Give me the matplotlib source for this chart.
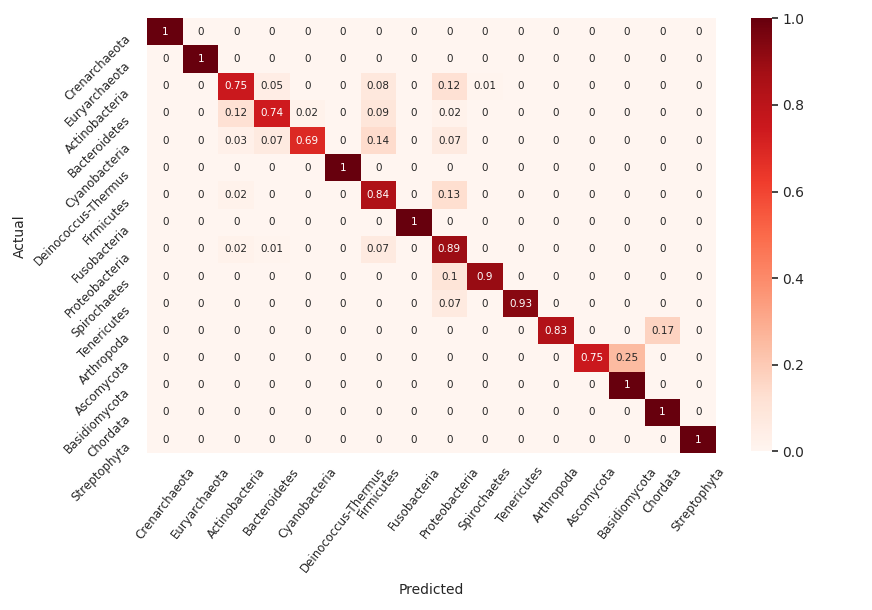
import numpy as np
import matplotlib
matplotlib.use('Agg')
import matplotlib.pyplot as plt
import seaborn as sns

labels = ['Crenarchaeota', 'Euryarchaeota', 'Actinobacteria', 'Bacteroidetes',
          'Cyanobacteria', 'Deinococcus-Thermus', 'Firmicutes', 'Fusobacteria',
          'Proteobacteria', 'Spirochaetes', 'Tenericutes', 'Arthropoda',
          'Ascomycota', 'Basidiomycota', 'Chordata', 'Streptophyta']

# rows = actual, cols = predicted
cm = [
    [1, 0, 0, 0, 0, 0, 0, 0, 0, 0, 0, 0, 0, 0, 0, 0],
    [0, 1, 0, 0, 0, 0, 0, 0, 0, 0, 0, 0, 0, 0, 0, 0],
    [0, 0, 0.75, 0.05, 0, 0, 0.08, 0, 0.12, 0.01, 0, 0, 0, 0, 0, 0],
    [0, 0, 0.12, 0.74, 0.02, 0, 0.09, 0, 0.02, 0, 0, 0, 0, 0, 0, 0],
    [0, 0, 0.03, 0.07, 0.69, 0, 0.14, 0, 0.07, 0, 0, 0, 0, 0, 0, 0],
    [0, 0, 0, 0, 0, 1, 0, 0, 0, 0, 0, 0, 0, 0, 0, 0],
    [0, 0, 0.02, 0, 0, 0, 0.84, 0, 0.13, 0, 0, 0, 0, 0, 0, 0],
    [0, 0, 0, 0, 0, 0, 0, 1, 0, 0, 0, 0, 0, 0, 0, 0],
    [0, 0, 0.02, 0.01, 0, 0, 0.07, 0, 0.89, 0, 0, 0, 0, 0, 0, 0],
    [0, 0, 0, 0, 0, 0, 0, 0, 0.1, 0.9, 0, 0, 0, 0, 0, 0],
    [0, 0, 0, 0, 0, 0, 0, 0, 0.07, 0, 0.93, 0, 0, 0, 0, 0],
    [0, 0, 0, 0, 0, 0, 0, 0, 0, 0, 0, 0.83, 0, 0, 0.17, 0],
    [0, 0, 0, 0, 0, 0, 0, 0, 0, 0, 0, 0, 0.75, 0.25, 0, 0],
    [0, 0, 0, 0, 0, 0, 0, 0, 0, 0, 0, 0, 0, 1, 0, 0],
    [0, 0, 0, 0, 0, 0, 0, 0, 0, 0, 0, 0, 0, 0, 1, 0],
    [0, 0, 0, 0, 0, 0, 0, 0, 0, 0, 0, 0, 0, 0, 0, 1],
]

plt.rcParams['text.color'] = '#262626'
plt.rcParams['axes.labelcolor'] = '#262626'
plt.rcParams['xtick.color'] = '#262626'
plt.rcParams['ytick.color'] = '#262626'

fig = plt.figure(figsize=(8.72, 6.10), dpi=100)
ax = fig.add_axes([0.169, 0.257, 0.652, 0.713])
cax = fig.add_axes([0.861, 0.260, 0.024, 0.710])

sns.heatmap(np.array(cm), annot=True, fmt='g', cmap='Reds', vmin=0, vmax=1,
            xticklabels=labels, yticklabels=labels, ax=ax, cbar_ax=cax,
            annot_kws={'size': 7.5})

ax.tick_params(axis='x', length=0, labelsize=8.5, pad=8.5)
ax.tick_params(axis='y', length=0, labelsize=8.5, pad=10.5)
plt.setp(ax.get_xticklabels(), rotation=52, ha='center', va='top')
plt.setp(ax.get_yticklabels(), rotation=45, ha='right', va='top')
ax.set_xlabel('Predicted', fontsize=10, labelpad=6)
ax.set_ylabel('Actual', fontsize=10, labelpad=4)

cax.tick_params(labelsize=10, length=4, width=1.2)
for s in cax.spines.values():
    s.set_visible(False)

fig.savefig('out.png')
